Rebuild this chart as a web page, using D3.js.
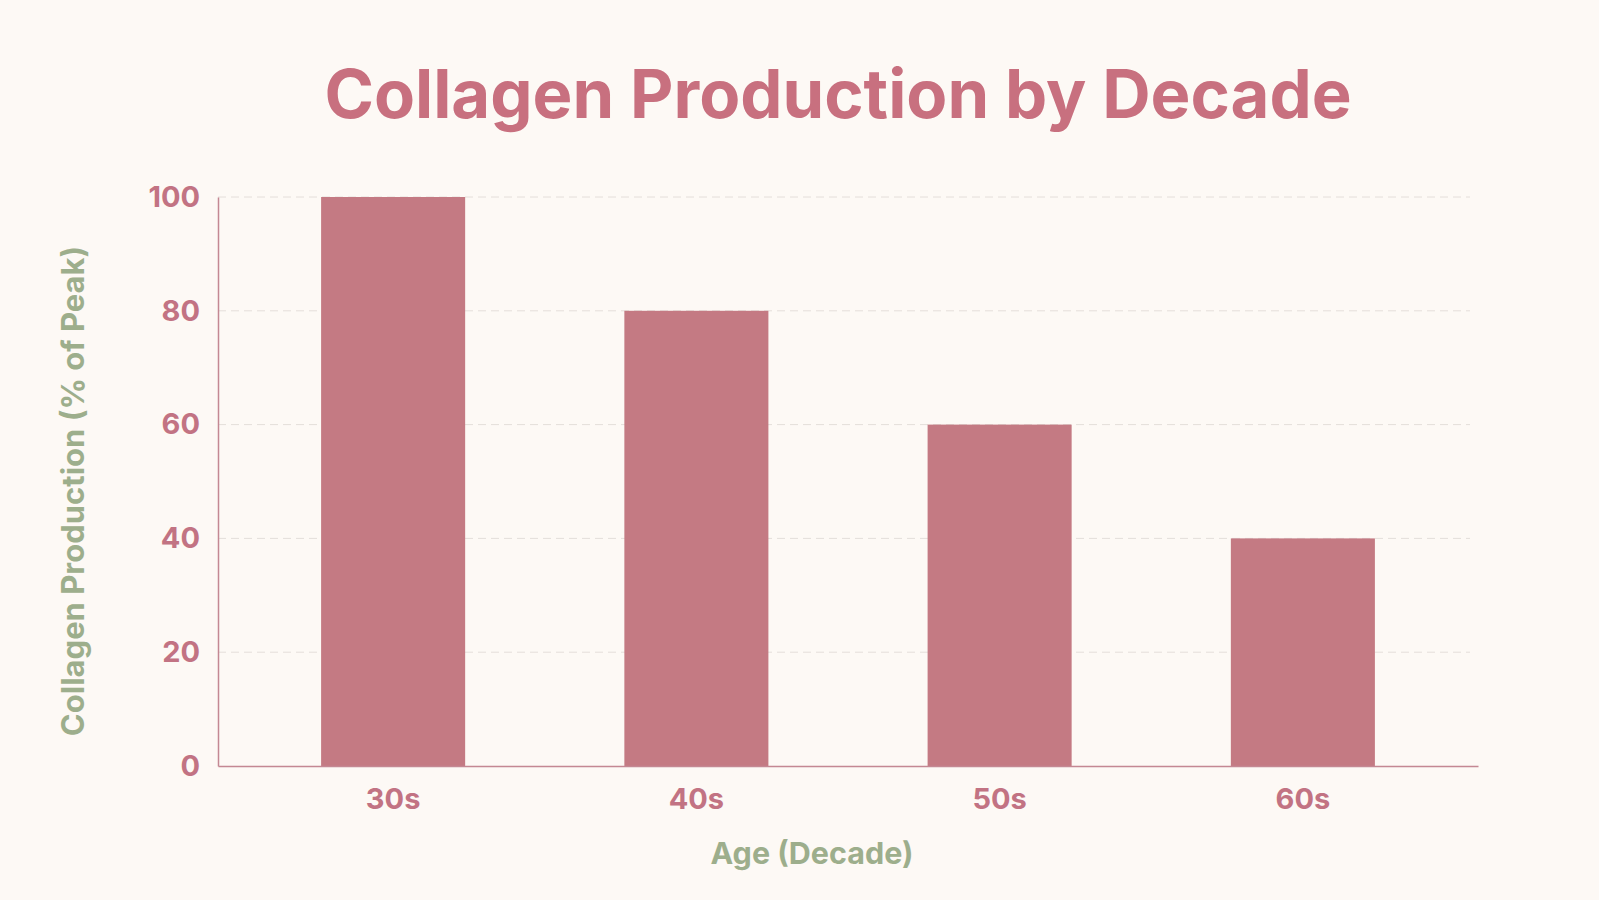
<!DOCTYPE html>
<html>
<head>
<meta charset="utf-8">
<script src="https://cdn.jsdelivr.net/npm/d3@7"></script>
<style>
  html, body { margin: 0; padding: 0; background: #fdf9f5; }
  svg { display: block; font-family: "Inter", "Liberation Sans", sans-serif; }
</style>
</head>
<body>
<svg id="chart" width="1599" height="900"></svg>
<script>
// data
const decades = ["30s", "40s", "50s", "60s"];
const production = [100, 80, 60, 40];
const yTicks = [0, 20, 40, 60, 80, 100];

const barColor = "#c47a83";
const labelColor = "#c27383";
const titleColor = "#c8707f";
const axisTitleColor = "#9dae8c";
const axisLineColor = "#c48893";

const margin = { top: 197, right: 121, bottom: 134, left: 218 };
const width = 1599 - margin.left - margin.right;
const height = 900 - margin.top - margin.bottom;

const svg = d3.select("#chart");
svg.append("rect").attr("width", 1599).attr("height", 900).attr("fill", "#fdf9f5");

const g = svg.append("g").attr("transform", `translate(${margin.left},${margin.top})`);

const x = d3.scaleBand()
  .domain(decades)
  .range([0, width])
  .paddingInner(0.525)
  .paddingOuter(0.34);

const y = d3.scaleLinear().domain([0, 100]).range([height, 0]);

// grid
g.append("g")
  .selectAll("line")
  .data(yTicks.filter(d => d > 0))
  .join("line")
  .attr("x1", 0)
  .attr("x2", width - 8)
  .attr("y1", d => y(d))
  .attr("y2", d => y(d))
  .attr("stroke", "#e4deda")
  .attr("stroke-width", 1)
  .attr("stroke-dasharray", "8,5");

// bars
g.append("g")
  .selectAll("rect")
  .data(production)
  .join("rect")
  .attr("x", (d, i) => x(decades[i]))
  .attr("y", d => y(d))
  .attr("width", x.bandwidth())
  .attr("height", d => height - y(d))
  .attr("fill", barColor);

// y axis
const yAxis = g.append("g")
  .call(d3.axisLeft(y).tickValues(yTicks).tickSize(0).tickPadding(18));
yAxis.select(".domain").attr("stroke", axisLineColor).attr("stroke-width", 1.5);
yAxis.selectAll("text")
  .attr("fill", labelColor)
  .attr("font-size", 29)
  .attr("font-weight", 700)
  .attr("font-family", "Inter, sans-serif");

// x axis
const xAxis = g.append("g")
  .attr("transform", `translate(0,${height})`)
  .call(d3.axisBottom(x).tickSize(0).tickPadding(22));
xAxis.select(".domain").attr("stroke", axisLineColor).attr("stroke-width", 1.5);
xAxis.selectAll("text")
  .attr("fill", labelColor)
  .attr("font-size", 29)
  .attr("font-weight", 700)
  .attr("font-family", "Inter, sans-serif");

// title
svg.append("text")
  .attr("x", 838)
  .attr("y", 118)
  .attr("text-anchor", "middle")
  .attr("fill", titleColor)
  .attr("font-size", 67)
  .attr("font-weight", 700)
  .text("Collagen Production by Decade");

// axis titles
svg.append("text")
  .attr("x", 812)
  .attr("y", 864)
  .attr("text-anchor", "middle")
  .attr("fill", axisTitleColor)
  .attr("font-size", 30.5)
  .attr("font-weight", 700)
  .text("Age (Decade)");

svg.append("text")
  .attr("transform", "translate(84,491) rotate(-90)")
  .attr("text-anchor", "middle")
  .attr("fill", axisTitleColor)
  .attr("font-size", 31)
  .attr("font-weight", 700)
  .text("Collagen Production (% of Peak)");
</script>
</body>
</html>
